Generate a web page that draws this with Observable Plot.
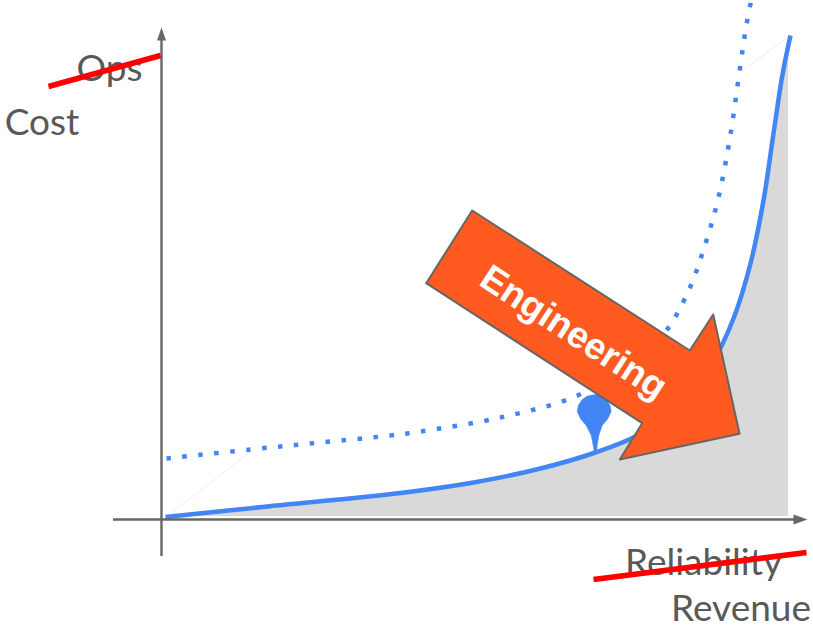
<!DOCTYPE html>
<html>
<head>
<meta charset="utf-8">
<script src="https://cdn.jsdelivr.net/npm/d3@7"></script>
<script src="https://cdn.jsdelivr.net/npm/@observablehq/plot@0.6"></script>
<style>
  html, body { margin: 0; padding: 0; background: #fff; }
  svg { display: block; }
</style>
</head>
<body>
<div id="chart"></div>
<script>
// Cost curves, measured from the axes' origin
const costX = [4, 106, 239, 312, 379, 434, 476, 519, 549, 572, 589, 602, 612, 621, 629];
const costY = [2.5, 13, 26.5, 37, 51, 67, 84, 113, 153, 201, 256, 319, 386, 445, 484];
const oldCostX = [5, 89, 159, 229, 259, 339, 416, 469, 504, 528, 544, 557, 569, 578, 585, 591];
const oldCostY = [61, 70, 77, 84, 88, 102, 124, 157, 188, 231, 276, 322, 385, 448, 495, 525];

// Shaded region stops at this revenue, just short of the curve's end
const shadeEndX = 627;
const shadeEndY = 475;
const shadeFloor = 3;

// Faint guides joining the two curves
const guideX = [[5, 92], [629, 581]];
const guideY = [[3, 70], [484, 449]];

// Axes and their arrowheads
const axisXExtent = [-48, 640];
const axisYExtent = [-37, 480];
const headXx = [632, 646, 632];
const headXy = [5, 0, -5];
const headYx = [-4.5, 0, 4.5];
const headYy = [479, 492, 479];

// Marker pin sitting on the curve
const pinX = [432.7, 439.2, 444.7, 448.4, 449.7, 446.3, 440.7, 437.3, 435.7, 435, 433, 431.7, 429.7, 424.7, 419, 415.7, 417, 420.7, 426.2];
const pinY = [125, 123.7, 120, 114.5, 108, 100.7, 94, 84, 74, 66, 66, 74, 84, 94, 100.7, 108, 114.5, 120, 123.7];

// Block arrow pressing the curve down
const arrowX = [310.7, 264.7, 480.7, 458.3, 578, 551.7, 528.3];
const arrowY = [309, 236.3, 96.3, 60, 85.7, 205, 169];
const arrowLabel = ["Engineering"];
const arrowLabelX = [412];
const arrowLabelY = [187];

// Axis names, old and new
const labelText = ["Ops", "Cost", "Reliability", "Revenue"];
const labelX = [-52, -119.5, 542, 579.5];
const labelY = [439, 385, -55, -101];

// Strike-through lines over the retired names
const strikeX = [[-113, -1], [432, 645]];
const strikeY = [[433, 464], [-60, -33]];

const table = (xs, ys) => xs.map((x, i) => ({x, y: ys[i]}));
const cost = table(costX, costY);
const oldCost = table(oldCostX, oldCostY);
const shade = [...cost.filter(d => d.x < shadeEndX), {x: shadeEndX, y: shadeEndY}];
const labels = labelText.map((text, i) => ({text, x: labelX[i], y: labelY[i]}));
const guides = guideX.flatMap((xs, k) => xs.map((x, i) => ({k, x, y: guideY[k][i]})));
const strikes = strikeX.flatMap((xs, k) => xs.map((x, i) => ({k, x, y: strikeY[k][i]})));

const blue = "#4285f4";
const grey = "#666666";

const chart = Plot.plot({
  width: 813,
  height: 627,
  margin: 0,
  x: {domain: [-161, 652], range: [0, 813], axis: null},
  y: {domain: [-108, 519], range: [627, 0], axis: null},
  style: {background: "#fff"},
  marks: [
    Plot.areaY(shade, {x: "x", y1: shadeFloor, y2: "y", fill: "#d9d9d9", curve: "catmull-rom"}),
    Plot.line(guides, {x: "x", y: "y", z: "k", stroke: "#eeeeee", strokeWidth: 1}),
    Plot.line(oldCost, {x: "x", y: "y", stroke: blue, strokeWidth: 4.5, strokeDasharray: "4.5 11.5", strokeLinecap: "butt", curve: "catmull-rom"}),
    Plot.line(cost, {x: "x", y: "y", stroke: blue, strokeWidth: 4.5, strokeLinecap: "butt", curve: "catmull-rom"}),
    Plot.line(table(pinX, pinY), {x: "x", y: "y", fill: blue, stroke: blue, strokeWidth: 0.5}),
    Plot.ruleY([0], {x1: axisXExtent[0], x2: axisXExtent[1], stroke: grey, strokeWidth: 2.4}),
    Plot.ruleX([0], {y1: axisYExtent[0], y2: axisYExtent[1], stroke: grey, strokeWidth: 2.4}),
    Plot.line(table(headXx, headXy), {x: "x", y: "y", fill: grey, stroke: "none"}),
    Plot.line(table(headYx, headYy), {x: "x", y: "y", fill: grey, stroke: "none"}),
    Plot.text(labels, {
      x: "x", y: "y", text: "text",
      textAnchor: "middle", lineAnchor: "bottom",
      fontFamily: "Lato", fontSize: 37, fontWeight: 400, fill: "#595959"
    }),
    Plot.line(strikes, {x: "x", y: "y", z: "k", stroke: "#ff0000", strokeWidth: 5.5, strokeLinecap: "butt"}),
    Plot.line(table([...arrowX, arrowX[0]], [...arrowY, arrowY[0]]), {
      x: "x", y: "y", fill: "#ff5a1f", stroke: grey, strokeWidth: 2
    }),
    Plot.text(arrowLabel, {
      x: arrowLabelX, y: arrowLabelY, text: d => d,
      rotate: 33, textAnchor: "middle", lineAnchor: "middle",
      fontFamily: "Liberation Sans", fontSize: 37, fontWeight: 700, fill: "#ffffff"
    })
  ]
});
document.getElementById("chart").append(chart);
</script>
</body>
</html>
